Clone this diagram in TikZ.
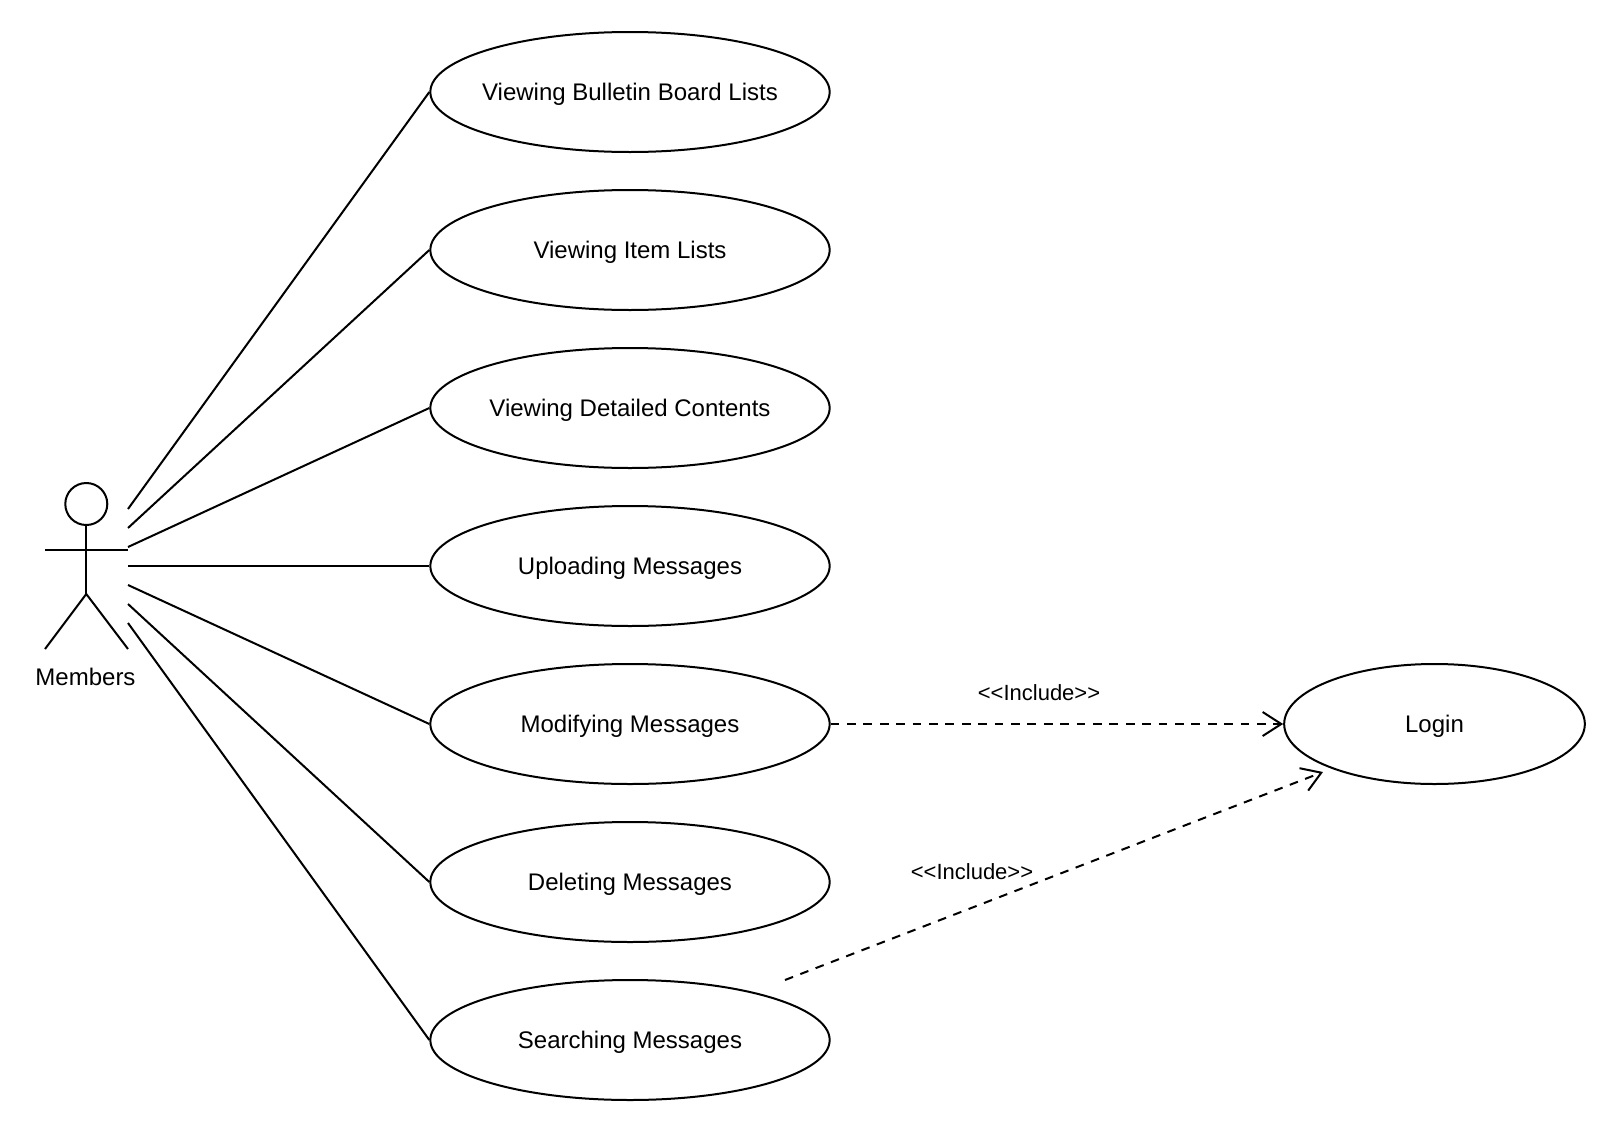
\documentclass[tikz,border=0pt]{standalone}
\usepackage{fontspec}
\setmainfont{Liberation Sans}
\usetikzlibrary{shapes.geometric,arrows.meta}
\tikzset{
  usecase/.style={ellipse,draw=black,line width=1.5pt,minimum width=299.5pt,minimum height=90pt,inner ysep=0pt,inner xsep=-20pt,font=\fontsize{18}{20}\selectfont,text height=13pt,text depth=0pt},
  loginbox/.style={usecase,minimum width=225.5pt},
  stick/.style={draw=black,line width=1.5pt},
  assoc/.style={draw=black,line width=1.5pt},
  incl/.style={draw=black,line width=1.5pt,dash pattern=on 6.5pt off 5.8pt,-{Straight Barb[length=14pt,width=18pt,line width=1.5pt]}},
  lbl/.style={inner sep=0pt,font=\fontsize{16.5}{18}\selectfont},
  actorname/.style={inner sep=0pt,font=\fontsize{18}{20}\selectfont},
}
\begin{document}
\begin{tikzpicture}[x=0.75pt,y=-0.75pt]
\useasboundingbox (0,0) rectangle (1604,1132);
\node[usecase] (u1) at (630,92) {Viewing Bulletin Board Lists};
\node[usecase] (u2) at (630,250) {Viewing Item Lists};
\node[usecase] (u3) at (630,408) {Viewing Detailed Contents};
\node[usecase] (u4) at (630,566) {Uploading Messages};
\node[usecase] (u5) at (630,724) {Modifying Messages};
\node[usecase] (u6) at (630,882) {Deleting Messages};
\node[usecase] (u7) at (630,1040) {Searching Messages};
\node[loginbox] (login) at (1434.5,724) {Login};
\node[actorname] (members) at (85.5,677) {Members};
\node[lbl] (inc1) at (1039,693) {<{}<Include>{}>};
\node[lbl] (inc2) at (972,872) {<{}<Include>{}>};
% actor
\node[circle,stick,minimum size=31.5pt,inner sep=0pt] (head) at (86.3,504) {};
\coordinate (hip) at (86.3,594);
\coordinate (armL) at (45,550);
\coordinate (armR) at (128,550);
\coordinate (legL) at (45,649);
\coordinate (legR) at (128,649);
\draw[stick] (head.south) -- (hip);
\draw[stick] (armL) -- (armR);
\draw[stick,line join=miter] (legL) -- (hip) -- (legR);
% association free ends
\coordinate (a1) at (128,509);
\coordinate (a2) at (128,528);
\coordinate (a3) at (128,547);
\coordinate (a4) at (128,566);
\coordinate (a5) at (128,585);
\coordinate (a6) at (128,604);
\coordinate (a7) at (128,623);
\draw[assoc] (a1) -- (u1.west);
\draw[assoc] (a2) -- (u2.west);
\draw[assoc] (a3) -- (u3.west);
\draw[assoc] (a4) -- (u4.west);
\draw[assoc] (a5) -- (u5.west);
\draw[assoc] (a6) -- (u6.west);
\draw[assoc] (a7) -- (u7.west);
% include
\coordinate (s7) at (785,980);
\coordinate (e7) at (1323,772);
\draw[incl] (u5.east) -- (login.west);
\draw[incl] (s7) -- (e7);
\end{tikzpicture}
\end{document}
